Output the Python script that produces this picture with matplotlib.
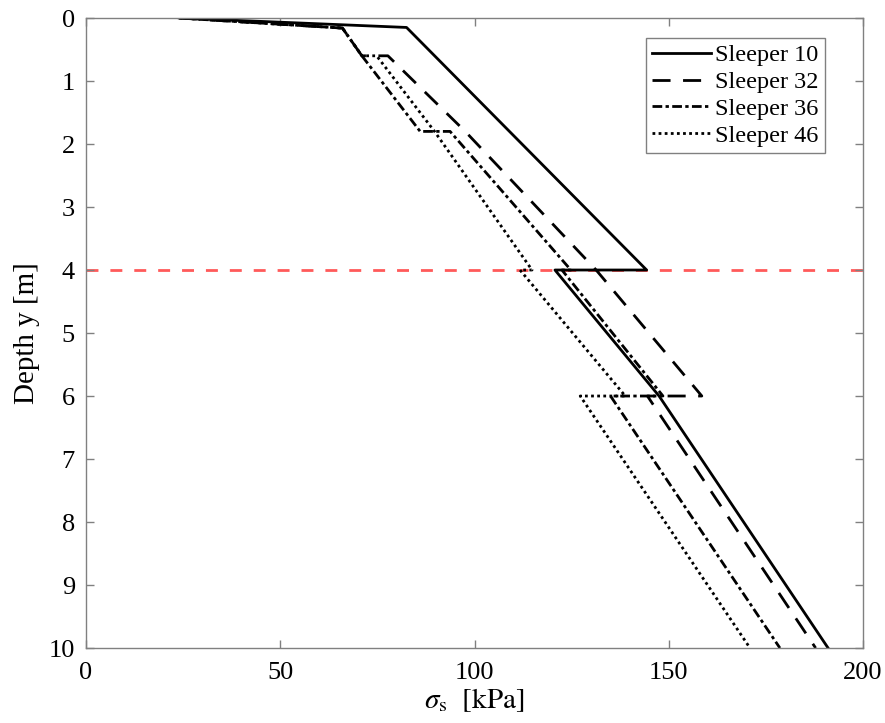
import numpy as np
import matplotlib.pyplot as plt

plt.rcParams['font.family'] = ['Liberation Serif', 'DejaVu Serif']
plt.rcParams['mathtext.fontset'] = 'stix'

# stress profiles sigma_s [kPa] vs depth y [m], jumps at layer boundaries
s10_sigma = [24, 82.5, 144.3, 120.7, 147.5, 191.0]
s10_depth = [0, 0.15, 4.0, 4.0, 6.0, 10.0]

s32_sigma = [24, 66.0, 71.0, 77.7, 97.6, 131.3, 158.5, 144.5, 187.8]
s32_depth = [0, 0.16, 0.6, 0.6, 1.8, 4.0, 6.0, 6.0, 10.0]

s36_sigma = [24, 66.0, 71.0, 86.0, 93.7, 124.8, 122.5, 148.5, 135.0, 178.6]
s36_depth = [0, 0.16, 0.6, 1.8, 1.8, 4.0, 4.0, 6.0, 6.0, 10.0]

s46_sigma = [24, 66.0, 71.0, 74.8, 89.7, 114.8, 111.7, 138.8, 127.2, 170.9]
s46_depth = [0, 0.16, 0.6, 0.6, 1.8, 4.0, 4.0, 6.0, 6.0, 10.0]

water_depth = 4.0

fig = plt.figure(figsize=(8.85, 7.23), dpi=100)
ax = fig.add_axes([0.0972, 0.1037, 0.878, 0.8714])

lw = 2.0
ax.plot(s10_sigma, s10_depth, color='k', lw=lw, ls='-', label='Sleeper 10')
ax.plot(s32_sigma, s32_depth, color='k', lw=lw, dashes=(6.5, 4.5), label='Sleeper 32')
ax.plot(s36_sigma, s36_depth, color='k', lw=lw, dashes=(3.5, 1.2, 1.2, 1.2), label='Sleeper 36')
ax.plot(s46_sigma, s46_depth, color='k', lw=lw, dashes=(1.0, 1.2), label='Sleeper 46')
ax.axhline(water_depth, color='#ff5a5a', lw=lw, dashes=(4.3, 4.3), zorder=1)

ax.set_xlim(0, 200)
ax.set_ylim(10, 0)
ax.set_xticks(np.arange(0, 201, 50))
ax.set_yticks(np.arange(0, 11, 1))

for sp in ax.spines.values():
    sp.set_color('#808080')
    sp.set_linewidth(1.0)
ax.tick_params(direction='in', length=6, width=1.0, color='#808080',
               top=True, right=True, labelsize=19)
ax.tick_params(axis='x', pad=10)
ax.tick_params(axis='y', pad=8)

ax.set_xlabel(r'$\sigma_{\rm s}\ \ [{\rm kPa}]$', fontsize=21, labelpad=2)
ax.set_ylabel('Depth y [m]', fontsize=21, labelpad=6)

leg = ax.legend(loc='upper right', fontsize=17.5, handlelength=2.4, handletextpad=0.2,
                labelspacing=0.2, borderpad=0.25, borderaxespad=0,
                bbox_to_anchor=(0.951, 0.968), fancybox=False, framealpha=1)
leg.get_frame().set_edgecolor('#808080')
leg.get_frame().set_linewidth(1.0)

fig.savefig('out.png', dpi=100)
